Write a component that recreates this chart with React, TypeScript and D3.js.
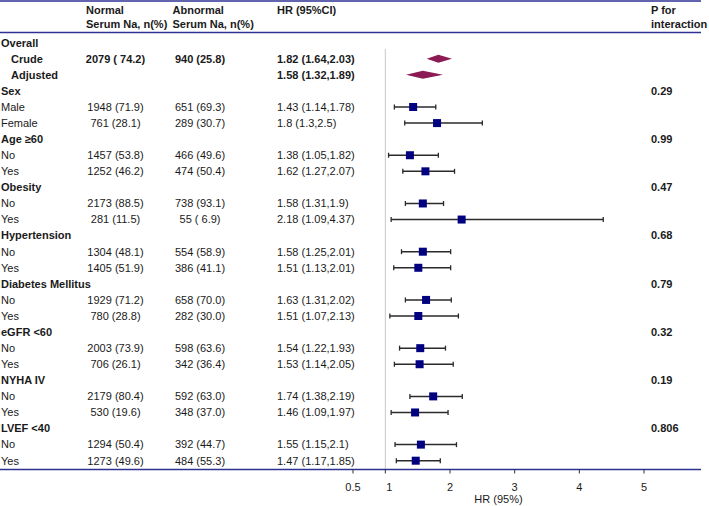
import React from "react";
import * as d3 from "d3";

// table rows, top to bottom
const rowLabels = [
  "Overall", "Crude", "Adjusted",
  "Sex", "Male", "Female",
  "Age \u226560", "No", "Yes",
  "Obesity", "No", "Yes",
  "Hypertension", "No", "Yes",
  "Diabetes Mellitus", "No", "Yes",
  "eGFR <60", "No", "Yes",
  "NYHA IV", "No", "Yes",
  "LVEF <40", "No", "Yes",
];
// head = bold group title, overall = bold indented row, sub = plain row
const rowKinds = [
  "head", "overall", "overall",
  "head", "sub", "sub",
  "head", "sub", "sub",
  "head", "sub", "sub",
  "head", "sub", "sub",
  "head", "sub", "sub",
  "head", "sub", "sub",
  "head", "sub", "sub",
  "head", "sub", "sub",
];
const normalCounts = [
  "", "2079 ( 74.2)", "",
  "", "1948 (71.9)", "761 (28.1)",
  "", "1457 (53.8)", "1252 (46.2)",
  "", "2173 (88.5)", "281 (11.5)",
  "", "1304 (48.1)", "1405 (51.9)",
  "", "1929 (71.2)", "780 (28.8)",
  "", "2003 (73.9)", "706 (26.1)",
  "", "2179 (80.4)", "530 (19.6)",
  "", "1294 (50.4)", "1273 (49.6)",
];
const abnormalCounts = [
  "", "940 (25.8)", "",
  "", "651 (69.3)", "289 (30.7)",
  "", "466 (49.6)", "474 (50.4)",
  "", "738 (93.1)", "55 ( 6.9)",
  "", "554 (58.9)", "386 (41.1)",
  "", "658 (70.0)", "282 (30.0)",
  "", "598 (63.6)", "342 (36.4)",
  "", "592 (63.0)", "348 (37.0)",
  "", "392 (44.7)", "484 (55.3)",
];
const hr = [
  null, 1.82, 1.58,
  null, 1.43, 1.8,
  null, 1.38, 1.62,
  null, 1.58, 2.18,
  null, 1.58, 1.51,
  null, 1.63, 1.51,
  null, 1.54, 1.53,
  null, 1.74, 1.46,
  null, 1.55, 1.47,
];
const lower = [
  null, 1.64, 1.32,
  null, 1.14, 1.3,
  null, 1.05, 1.27,
  null, 1.31, 1.09,
  null, 1.25, 1.13,
  null, 1.31, 1.07,
  null, 1.22, 1.14,
  null, 1.38, 1.09,
  null, 1.15, 1.17,
];
const upper = [
  null, 2.03, 1.89,
  null, 1.78, 2.5,
  null, 1.82, 2.07,
  null, 1.9, 4.37,
  null, 2.01, 2.01,
  null, 2.02, 2.13,
  null, 1.93, 2.05,
  null, 2.19, 1.97,
  null, 2.1, 1.85,
];
const pInteraction = [
  "", "", "",
  "0.29", "", "",
  "0.99", "", "",
  "0.47", "", "",
  "0.68", "", "",
  "0.79", "", "",
  "0.32", "", "",
  "0.19", "", "",
  "0.806", "", "",
];
const xTicks = [0.5, 1, 2, 3, 4, 5];

const width = 709;
const height = 506;
const font = "'Liberation Sans', Arial, sans-serif";
const lineBlue = "#2e3192";
const txt = "#1a1a1a";

const App = () => {
  const x = d3.scaleLinear().domain([0.5, 5]).range([353, 644]);
  const y = d3
    .scalePoint<number>()
    .domain(rowLabels.map((_, i) => i))
    .range([42.7, 460.7]);

  const colNormal = 115.5;
  const colAbnormal = 200;
  const colHr = 277;
  const colP = 651;
  const axisY = 469.5;

  return (
    <svg
      width={width}
      height={height}
      style={{ position: "absolute", left: 0, top: 0, background: "#fff" }}
      fontFamily={font}
      fontSize={11}
    >
      {/* header */}
      <g fontWeight="bold" fill={txt}>
        <text x={86} y={10} dy="0.35em">Normal</text>
        <text x={86} y={24} dy="0.35em">Serum Na, n(%)</text>
        <text x={172.5} y={10} dy="0.35em">Abnormal</text>
        <text x={172.5} y={24} dy="0.35em">Serum Na, n(%)</text>
        <text x={colHr} y={10} dy="0.35em">HR (95%CI)</text>
        <text x={colP} y={10} dy="0.35em">P for</text>
        <text x={colP} y={24} dy="0.35em">interaction</text>
      </g>
      <line x1={0} x2={701} y1={1} y2={1} stroke={lineBlue} strokeWidth={1.5} />
      <line x1={0} x2={701} y1={32.5} y2={32.5} stroke={lineBlue} strokeWidth={1.5} />

      {/* reference line at HR = 1 */}
      <line x1={x(1)} x2={x(1)} y1={49} y2={axisY} stroke="#c8c8c8" strokeWidth={1} />

      {rowLabels.map((label, i) => {
        const kind = rowKinds[i];
        const bold = kind !== "sub";
        const yy = y(i)!;
        const h = hr[i];
        const lo = lower[i];
        const hi = upper[i];
        return (
          <g key={i} fill={txt}>
            <text x={kind === "overall" ? 11 : 1} y={yy} dy="0.35em" fontWeight={bold ? "bold" : "normal"}>
              {label}
            </text>
            <text x={colNormal} y={yy} dy="0.35em" textAnchor="middle" fontWeight={bold ? "bold" : "normal"}>
              {normalCounts[i]}
            </text>
            <text x={colAbnormal} y={yy} dy="0.35em" textAnchor="middle" fontWeight={bold ? "bold" : "normal"}>
              {abnormalCounts[i]}
            </text>
            {h !== null && (
              <text x={colHr} y={yy} dy="0.35em" fontWeight={bold ? "bold" : "normal"}>
                {`${h} (${lo},${hi})`}
              </text>
            )}
            {pInteraction[i] && (
              <text x={colP} y={yy} dy="0.35em" fontWeight="bold">
                {pInteraction[i]}
              </text>
            )}
            {h !== null && kind === "overall" && (
              <path
                d={`M${x(lo!)},${yy} L${x(h)},${yy - 4} L${x(hi!)},${yy} L${x(h)},${yy + 4} Z`}
                fill="#8b1a55"
              />
            )}
            {h !== null && kind === "sub" && (
              <g>
                <line x1={x(lo!)} x2={x(hi!)} y1={yy} y2={yy} stroke="#2a2a2a" strokeWidth={1.5} />
                <line x1={x(lo!)} x2={x(lo!)} y1={yy - 2.5} y2={yy + 2.5} stroke="#2a2a2a" strokeWidth={1.3} />
                <line x1={x(hi!)} x2={x(hi!)} y1={yy - 2.5} y2={yy + 2.5} stroke="#2a2a2a" strokeWidth={1.3} />
                <rect x={x(h) - 4} y={yy - 4} width={8} height={8} fill="#000080" />
              </g>
            )}
          </g>
        );
      })}

      {/* bottom rule doubles as the x axis */}
      <line x1={0} x2={701} y1={axisY} y2={axisY} stroke={lineBlue} strokeWidth={1.5} />
      {xTicks.map((t) => (
        <g key={t}>
          <line x1={x(t)} x2={x(t)} y1={axisY} y2={axisY + 4} stroke="#333" strokeWidth={1} />
          <text x={x(t) + (t === 1 ? 4 : 0)} y={487} dy="0.35em" textAnchor="middle" fill={txt}>
            {t}
          </text>
        </g>
      ))}
      <text x={(x(0.5) + x(5)) / 2} y={499} dy="0.35em" textAnchor="middle" fill={txt}>
        HR (95%)
      </text>
    </svg>
  );
};

export default App;
